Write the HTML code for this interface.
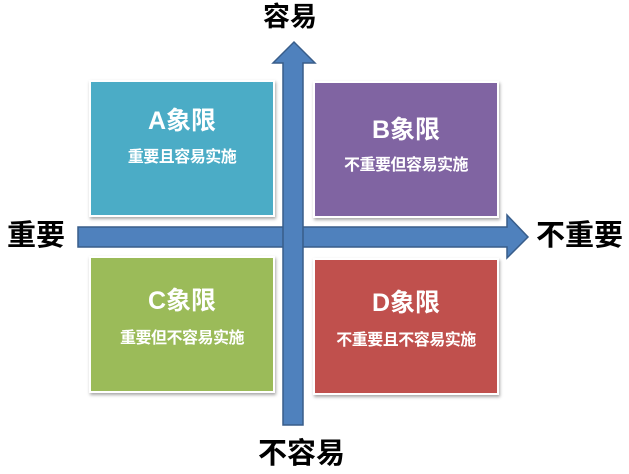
<!DOCTYPE html>
<html><head><meta charset="utf-8"><style>
body{margin:0;width:629px;height:474px;background:#fff;overflow:hidden;position:relative;font-family:"Liberation Sans","Noto Sans CJK SC",sans-serif}
.b{position:absolute;width:182px;height:133px;border:2px solid #fff;box-shadow:1px 2px 3px rgba(0,0,0,.35);color:#fff;text-align:center;font-weight:bold}
.t{position:absolute;left:0;right:0;font-size:25px;line-height:30px}
.s{position:absolute;left:0;right:0;font-size:16px;line-height:20px;letter-spacing:-0.5px}
.l{position:absolute;font-weight:bold;color:#000;line-height:1;white-space:nowrap}
</style></head><body>
<div class="b" style="left:89px;top:80px;background:#4bacc6"><div class="t" style="top:24px">A象限</div><div class="s" style="top:66px">重要且容易实施</div></div>
<div class="b" style="left:313px;top:81px;background:#8064a2"><div class="t" style="top:32px">B象限</div><div class="s" style="top:73px">不重要但容易实施</div></div>
<div class="b" style="left:89px;top:256px;background:#9bbb59"><div class="t" style="top:28px">C象限</div><div class="s" style="top:71px">重要但不容易实施</div></div>
<div class="b" style="left:313px;top:258px;background:#c0504d"><div class="t" style="top:28px">D象限</div><div class="s" style="top:71px">不重要且不容易实施</div></div>
<svg width="629" height="474" style="position:absolute;left:0;top:0">
<polygon points="78,227 507,227 507,215 528,237 507,258 507,247 78,247" fill="#4f81bd" stroke="#385d8a" stroke-width="1.5"/>
<polygon points="283,425 283,63 273,63 294,42 315,63 303,63 303,425" fill="#4f81bd" stroke="#385d8a" stroke-width="1.5"/>
</svg>
<div class="l" style="left:263px;top:4px;font-size:27px">容易</div>
<div class="l" style="left:7px;top:222px;font-size:29px">重要</div>
<div class="l" style="left:536px;top:222px;font-size:29px">不重要</div>
<div class="l" style="left:258px;top:440px;font-size:29px">不容易</div>
</body></html>
